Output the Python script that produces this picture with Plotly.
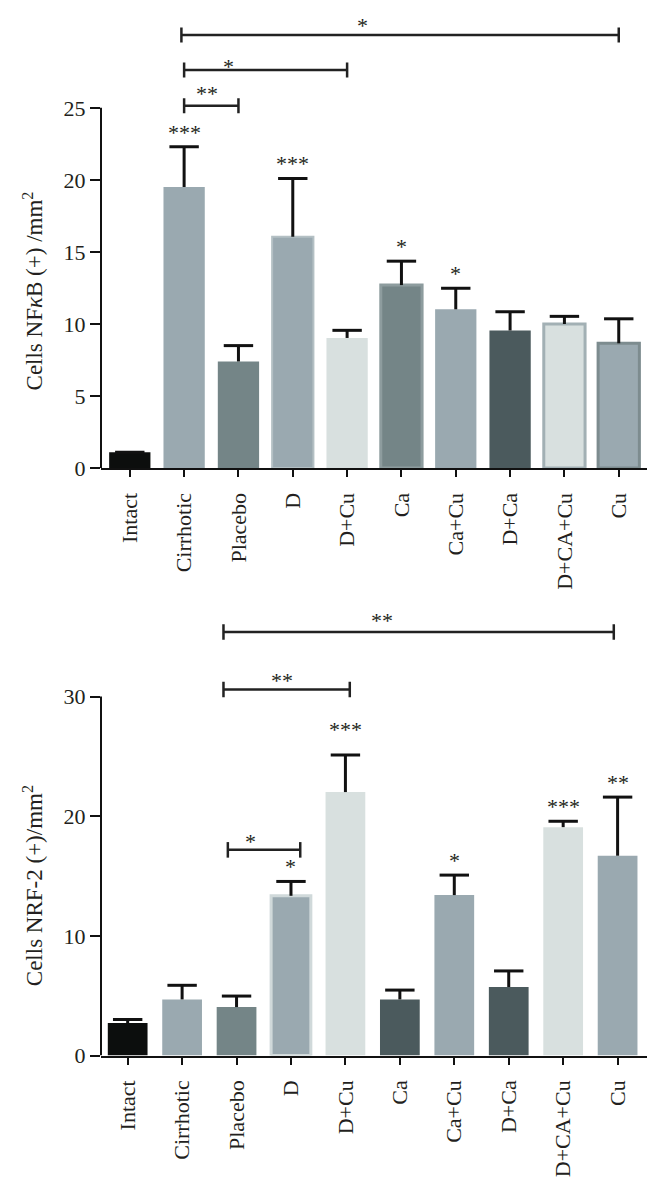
import plotly.graph_objects as go

# ---------------- data ----------------
groups = ["Intact", "Cirrhotic", "Placebo", "D", "D+Cu", "Ca", "Ca+Cu", "D+Ca", "D+CA+Cu", "Cu"]

nfkb_mean = [1.1, 19.5, 7.4, 16.05, 9.03, 12.7, 11.02, 9.55, 10.0, 8.66]
nfkb_err = [0.0, 2.8, 1.1, 4.05, 0.53, 1.66, 1.46, 1.3, 0.53, 1.7]
nfkb_sig = ["", "***", "", "***", "", "*", "*", "", "", ""]
# comparisons: (from group, to group, label)
nfkb_comp = [("Cirrhotic", "Cu", "*"), ("Cirrhotic", "D+Cu", "*"), ("Cirrhotic", "Placebo", "**")]

nrf_mean = [2.71, 4.69, 4.05, 13.35, 22.02, 4.69, 13.41, 5.73, 19.09, 16.7]
nrf_err = [0.31, 1.18, 0.92, 1.2, 3.1, 0.78, 1.67, 1.34, 0.49, 4.9]
nrf_sig = ["", "", "", "*", "***", "", "*", "", "***", "**"]
nrf_comp = [("Placebo", "Cu", "**"), ("Placebo", "D+Cu", "**"), ("Placebo", "D", "*")]

nfkb_ticks = [0, 5, 10, 15, 20, 25]
nrf_ticks = [0, 10, 20, 30]

# ---------------- style ----------------
FONT = "Liberation Serif"
FS = 22
FS_T = 23
INK = "#231f20"

# page: 8px body margin around the figure; vertical calibration factor K
W, H = 639, 1178
OFF = 8
K = 1.009

def px_x(p):
    return (p - OFF) / W

def px_y(p):
    return (H - (p * K - OFF)) / H

top_fill = ["#0c0e0d", "#9aa9b0", "#748587", "#9aa9b0", "#d8e0df",
            "#748587", "#9aa9b0", "#4b5a5d", "#d8e0df", "#9aa9b0"]
top_line = ["#0c0e0d", "#9aa9b0", "#748587", "#b4c0c4", "#d8e0df",
            "#8d9c9e", "#9aa9b0", "#4b5a5d", "#a2b0b4", "#7d8c8f"]
top_lw = [0, 0, 0, 2, 0, 3, 0, 0, 3, 3]

bot_fill = ["#0c0e0d", "#9aa9b0", "#748587", "#9aa9b0", "#d8e0df",
            "#4b5a5d", "#9aa9b0", "#4b5a5d", "#d8e0df", "#9aa9b0"]
bot_line = ["#0c0e0d", "#9aa9b0", "#748587", "#d0d9da", "#d8e0df",
            "#4b5a5d", "#9aa9b0", "#4b5a5d", "#d8e0df", "#9aa9b0"]
bot_lw = [0, 0, 0, 3, 0, 0, 0, 0, 0, 0]

# star label offsets (px) above error bar top
top_sig_shift = [0, 0, 0, 0, 0, 0, 0, 0, 0, 0]
bot_sig_shift = [0, 0, 0, 0, 11, 0, 0, 0, 0, 0]

# bracket styling: (x offset left, x offset right, y level, label x, label px offset)
top_br_style = [(-0.05, 0.0, 30.05, 4.28, 15), (0.0, 0.0, 27.63, 1.81, 8), (0.0, 0.0, 25.14, 1.42, 17)]
bot_br_style = [(-0.24, -0.07, 35.4, 4.67, 16), (-0.24, 0.08, 30.6, 2.83, 14), (-0.16, 0.17, 17.19, 2.25, 13)]

fig = go.Figure()

def add_panel(mean, err, fill, line, lw, width, xa, ya):
    tops = [m + e for m, e in zip(mean, err)]
    fig.add_trace(go.Bar(
        x=groups, y=mean, width=width,
        marker=dict(color=fill, line=dict(color=line, width=lw)),
        error_y=dict(type="data", symmetric=False, array=err,
                     arrayminus=[0] * len(err), width=0, thickness=3, color="#111111"),
        xaxis=xa, yaxis=ya, showlegend=False, hoverinfo="skip"))
    fig.add_trace(go.Scatter(
        x=groups, y=tops, mode="markers",
        marker=dict(symbol="line-ew", size=21, color="#111111",
                    line=dict(color="#111111", width=3)),
        xaxis=xa, yaxis=ya, showlegend=False, hoverinfo="skip"))
    return tops

tops1 = add_panel(nfkb_mean, nfkb_err, top_fill, top_line, top_lw, 0.76, "x", "y")
tops2 = add_panel(nrf_mean, nrf_err, bot_fill, bot_line, bot_lw, 0.73, "x2", "y2")

annotations = []
shapes = []

def sig_labels(tops, sig, shifts, xr, yr):
    for g, t, s, sh in zip(groups, tops, sig, shifts):
        if s:
            annotations.append(dict(x=g, y=t, xref=xr, yref=yr, text=s, showarrow=False,
                                    yanchor="bottom", yshift=sh,
                                    font=dict(family=FONT, size=FS, color=INK)))

def brackets(comp, style, xr, yr, tick_h):
    for (a, b, lab), (dx0, dx1, yl, lx, loff) in zip(comp, style):
        x0 = groups.index(a) + dx0
        x1 = groups.index(b) + dx1
        ln = dict(color="#222222", width=2.5)
        shapes.append(dict(type="line", xref=xr, yref=yr, x0=x0, x1=x1, y0=yl, y1=yl, line=ln))
        for xx in (x0, x1):
            shapes.append(dict(type="line", xref=xr, yref=yr, x0=xx, x1=xx,
                               y0=yl - tick_h, y1=yl + tick_h, line=ln))
        annotations.append(dict(x=lx, y=yl, xref=xr, yref=yr, text=lab, showarrow=False,
                                yanchor="middle", yshift=loff - 5,
                                font=dict(family=FONT, size=FS, color=INK)))

sig_labels(tops1, nfkb_sig, top_sig_shift, "x", "y")
sig_labels(tops2, nrf_sig, bot_sig_shift, "x2", "y2")
brackets(nfkb_comp, top_br_style, "x", "y", 0.52)
brackets(nrf_comp, bot_br_style, "x2", "y2", 0.65)

# y axis lines only up to the last tick
shapes.append(dict(type="line", xref="x domain", yref="y", x0=0, x1=0, y0=0, y1=nfkb_ticks[-1],
                   line=dict(color="#111111", width=2)))
shapes.append(dict(type="line", xref="x2 domain", yref="y2", x0=0, x1=0, y0=0, y1=nrf_ticks[-1],
                   line=dict(color="#111111", width=2)))

# y titles
annotations.append(dict(x=px_x(33), y=px_y(292), xref="paper", yref="paper", textangle=-90,
                        xanchor="center", yanchor="middle",
                        text="Cells NF<i>κ</i>B (+) /mm<sup>2</sup>", showarrow=False,
                        font=dict(family=FONT, size=FS_T, color=INK)))
annotations.append(dict(x=px_x(33), y=px_y(888), xref="paper", yref="paper", textangle=-90,
                        xanchor="center", yanchor="middle",
                        text="Cells NRF-2 (+)/mm<sup>2</sup>", showarrow=False,
                        font=dict(family=FONT, size=FS_T, color=INK)))

xaxis_common = dict(type="category", showline=True, linecolor="#111111", linewidth=2,
                    ticks="outside", ticklen=7, tickwidth=2, tickcolor="#111111",
                    tickangle=-90, showgrid=False, zeroline=False, ticklabelstandoff=7,
                    tickfont=dict(family=FONT, size=FS, color=INK))
yaxis_common = dict(showline=False, ticks="outside", ticklen=10, tickwidth=2, tickcolor="#111111",
                    showgrid=False, zeroline=False,
                    tickfont=dict(family=FONT, size=FS, color=INK))

fig.update_layout(
    width=W, height=H,
    margin=dict(l=0, r=0, t=0, b=0),
    paper_bgcolor="white", plot_bgcolor="white",
    barmode="overlay",
    xaxis=dict(domain=[px_x(101), px_x(647)], range=[-0.53, 9.52], anchor="y", **xaxis_common),
    yaxis=dict(domain=[px_y(469), px_y(469 - 31.5 * 14.44)], range=[0, 31.5], tickvals=nfkb_ticks,
               anchor="x", **yaxis_common),
    xaxis2=dict(domain=[px_x(101), px_x(647)], range=[-0.49, 9.54], anchor="y2", **xaxis_common),
    yaxis2=dict(domain=[px_y(1057.7), px_y(1057.7 - 38 * 11.99)], range=[0, 38], tickvals=nrf_ticks,
                anchor="x2", **yaxis_common),
    annotations=annotations,
    shapes=shapes,
)

fig.write_html("out.html")
